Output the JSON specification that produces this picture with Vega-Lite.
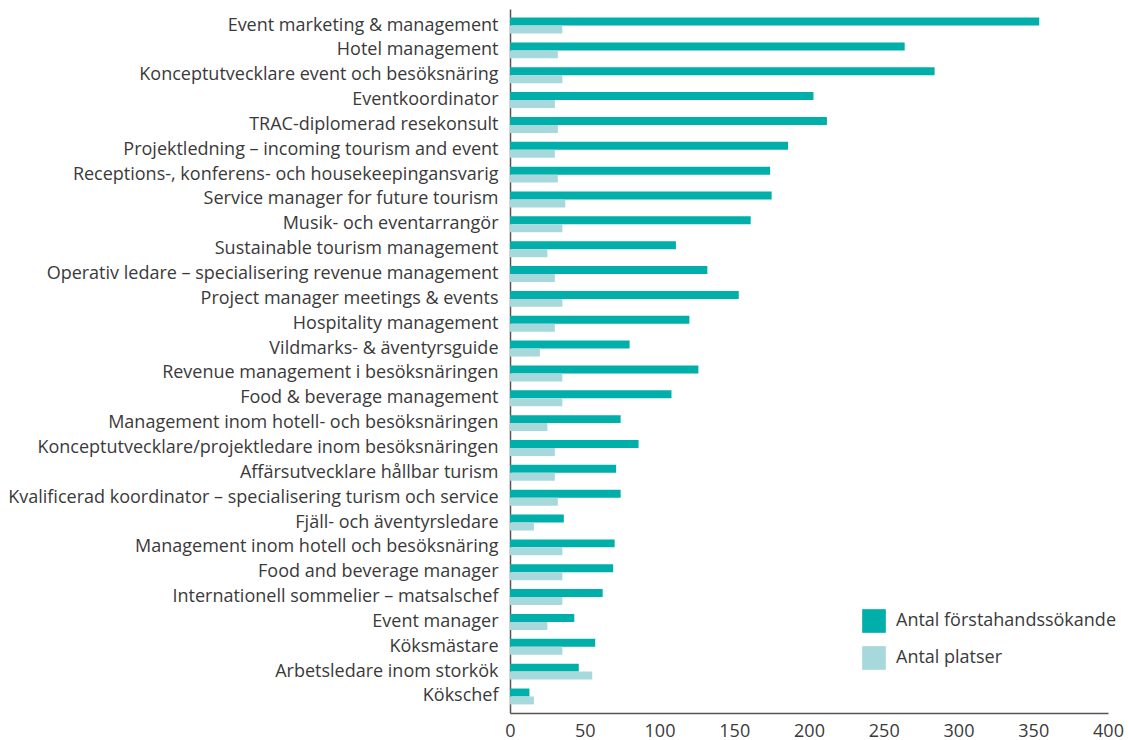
{
  "$schema": "https://vega.github.io/schema/vega-lite/v6.json",
  "autosize": "none",
  "width": 598,
  "height": 704,
  "padding": {"left": 510, "top": 9, "right": 21, "bottom": 27},
  "background": "white",
  "config": {
    "view": {"stroke": null},
    "font": "Open Sans",
    "axis": {"labelFont": "Open Sans", "labelColor": "#3a3a3a", "labelFontSize": 18, "domainColor": "#555555", "ticks": false, "grid": false, "title": null},
    "legend": {"labelFont": "Open Sans"}
  },
  "datasets": {
    "d": [
      {"cat": "Event marketing & management", "series": "Antal förstahandssökande", "value": 354},
      {"cat": "Event marketing & management", "series": "Antal platser", "value": 35},
      {"cat": "Hotel management", "series": "Antal förstahandssökande", "value": 264},
      {"cat": "Hotel management", "series": "Antal platser", "value": 32},
      {"cat": "Konceptutvecklare event och besöksnäring", "series": "Antal förstahandssökande", "value": 284},
      {"cat": "Konceptutvecklare event och besöksnäring", "series": "Antal platser", "value": 35},
      {"cat": "Eventkoordinator", "series": "Antal förstahandssökande", "value": 203},
      {"cat": "Eventkoordinator", "series": "Antal platser", "value": 30},
      {"cat": "TRAC-diplomerad resekonsult", "series": "Antal förstahandssökande", "value": 212},
      {"cat": "TRAC-diplomerad resekonsult", "series": "Antal platser", "value": 32},
      {"cat": "Projektledning – incoming tourism and event", "series": "Antal förstahandssökande", "value": 186},
      {"cat": "Projektledning – incoming tourism and event", "series": "Antal platser", "value": 30},
      {"cat": "Receptions-, konferens- och housekeepingansvarig", "series": "Antal förstahandssökande", "value": 174},
      {"cat": "Receptions-, konferens- och housekeepingansvarig", "series": "Antal platser", "value": 32},
      {"cat": "Service manager for future tourism", "series": "Antal förstahandssökande", "value": 175},
      {"cat": "Service manager for future tourism", "series": "Antal platser", "value": 37},
      {"cat": "Musik- och eventarrangör", "series": "Antal förstahandssökande", "value": 161},
      {"cat": "Musik- och eventarrangör", "series": "Antal platser", "value": 35},
      {"cat": "Sustainable tourism management", "series": "Antal förstahandssökande", "value": 111},
      {"cat": "Sustainable tourism management", "series": "Antal platser", "value": 25},
      {"cat": "Operativ ledare – specialisering revenue management", "series": "Antal förstahandssökande", "value": 132},
      {"cat": "Operativ ledare – specialisering revenue management", "series": "Antal platser", "value": 30},
      {"cat": "Project manager meetings & events", "series": "Antal förstahandssökande", "value": 153},
      {"cat": "Project manager meetings & events", "series": "Antal platser", "value": 35},
      {"cat": "Hospitality management", "series": "Antal förstahandssökande", "value": 120},
      {"cat": "Hospitality management", "series": "Antal platser", "value": 30},
      {"cat": "Vildmarks- & äventyrsguide", "series": "Antal förstahandssökande", "value": 80},
      {"cat": "Vildmarks- & äventyrsguide", "series": "Antal platser", "value": 20},
      {"cat": "Revenue management i besöksnäringen", "series": "Antal förstahandssökande", "value": 126},
      {"cat": "Revenue management i besöksnäringen", "series": "Antal platser", "value": 35},
      {"cat": "Food & beverage management", "series": "Antal förstahandssökande", "value": 108},
      {"cat": "Food & beverage management", "series": "Antal platser", "value": 35},
      {"cat": "Management inom hotell- och besöksnäringen ", "series": "Antal förstahandssökande", "value": 74},
      {"cat": "Management inom hotell- och besöksnäringen ", "series": "Antal platser", "value": 25},
      {"cat": "Konceptutvecklare/projektledare inom besöksnäringen", "series": "Antal förstahandssökande", "value": 86},
      {"cat": "Konceptutvecklare/projektledare inom besöksnäringen", "series": "Antal platser", "value": 30},
      {"cat": "Affärsutvecklare hållbar turism", "series": "Antal förstahandssökande", "value": 71},
      {"cat": "Affärsutvecklare hållbar turism", "series": "Antal platser", "value": 30},
      {"cat": "Kvalificerad koordinator – specialisering turism och service", "series": "Antal förstahandssökande", "value": 74},
      {"cat": "Kvalificerad koordinator – specialisering turism och service", "series": "Antal platser", "value": 32},
      {"cat": "Fjäll- och äventyrsledare ", "series": "Antal förstahandssökande", "value": 36},
      {"cat": "Fjäll- och äventyrsledare ", "series": "Antal platser", "value": 16},
      {"cat": "Management inom hotell och besöksnäring", "series": "Antal förstahandssökande", "value": 70},
      {"cat": "Management inom hotell och besöksnäring", "series": "Antal platser", "value": 35},
      {"cat": "Food and beverage manager", "series": "Antal förstahandssökande", "value": 69},
      {"cat": "Food and beverage manager", "series": "Antal platser", "value": 35},
      {"cat": "Internationell sommelier – matsalschef", "series": "Antal förstahandssökande", "value": 62},
      {"cat": "Internationell sommelier – matsalschef", "series": "Antal platser", "value": 35},
      {"cat": "Event manager", "series": "Antal förstahandssökande", "value": 43},
      {"cat": "Event manager", "series": "Antal platser", "value": 25},
      {"cat": "Köksmästare", "series": "Antal förstahandssökande", "value": 57},
      {"cat": "Köksmästare", "series": "Antal platser", "value": 35},
      {"cat": "Arbetsledare inom storkök", "series": "Antal förstahandssökande", "value": 46},
      {"cat": "Arbetsledare inom storkök", "series": "Antal platser", "value": 55},
      {"cat": "Kökschef", "series": "Antal förstahandssökande", "value": 13},
      {"cat": "Kökschef", "series": "Antal platser", "value": 16}
    ]
  },
  "data": {"name": "d"},
  "mark": {"type": "bar"},
  "encoding": {
    "y": {
      "field": "cat", "type": "nominal", "sort": null,
      "scale": {"paddingInner": 0.36, "paddingOuter": 0.345},
      "axis": {"labelPadding": 12, "labelLimit": 600, "domainWidth": 1.5}
    },
    "yOffset": {"field": "series", "type": "nominal", "sort": ["Antal förstahandssökande", "Antal platser"]},
    "x": {
      "field": "value", "type": "quantitative",
      "scale": {"domain": [0, 400], "nice": false},
      "axis": {"values": [0, 50, 100, 150, 200, 250, 300, 350, 400], "labelPadding": 9, "labelFlush": false, "domainWidth": 1.5}
    },
    "color": {
      "field": "series", "type": "nominal",
      "scale": {"domain": ["Antal förstahandssökande", "Antal platser"], "range": ["#00AFA9", "#A6D8DC"]},
      "legend": {
        "title": null, "orient": "none", "legendX": 352, "legendY": 600,
        "symbolType": "square", "symbolSize": 560, "symbolStrokeWidth": 0, "symbolOpacity": 1,
        "labelFontSize": 18, "labelColor": "#3a3a3a", "labelOffset": 10, "labelLimit": 400, "rowPadding": 13
      }
    }
  }
}
